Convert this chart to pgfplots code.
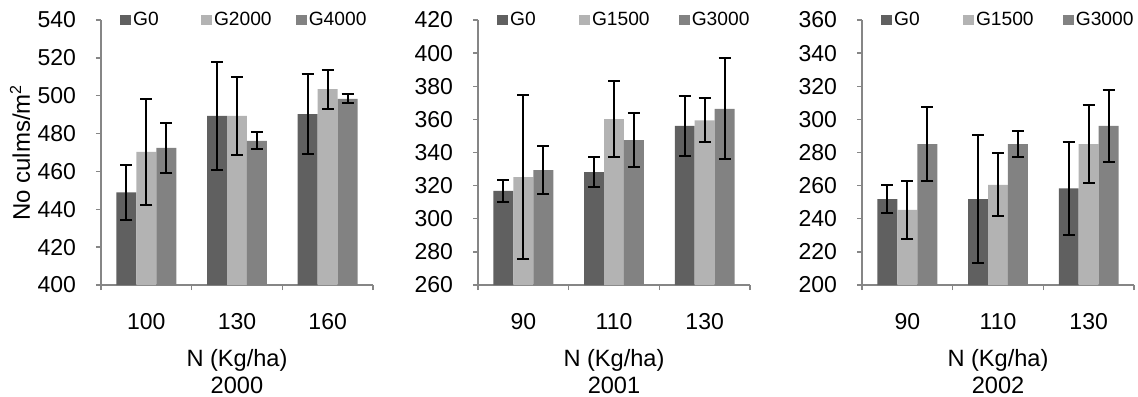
\documentclass[border=0pt]{standalone}
\usepackage{fontspec}
\setmainfont{Liberation Sans}
\usepackage{pgfplots}
\usepackage{pgfplotstable}
\pgfplotsset{compat=1.18}
\definecolor{cA}{HTML}{606060}
\definecolor{cB}{HTML}{B3B3B3}
\definecolor{cC}{HTML}{828282}
\definecolor{axgray}{HTML}{868686}

% panel 2000
\pgfplotstableread{
x y e
1 449.0 14.5
2 489.3 28.4
3 490.3 21.0
}\pA
\pgfplotstableread{
x y e
1 470.3 28.0
2 489.3 20.8
3 503.5 10.3
}\pB
\pgfplotstableread{
x y e
1 472.4 13.3
2 476.1 4.5
3 498.3 2.4
}\pC
% panel 2001
\pgfplotstableread{
x y e
1 316.8 6.8
2 328.2 9.0
3 356.0 18.4
}\qA
\pgfplotstableread{
x y e
1 325.2 49.4
2 360.2 23.0
3 359.4 13.3
}\qB
\pgfplotstableread{
x y e
1 329.4 14.4
2 347.5 16.5
3 366.3 30.5
}\qC
% panel 2002
\pgfplotstableread{
x y e
1 251.9 8.5
2 251.9 38.6
3 258.4 28.0
}\rA
\pgfplotstableread{
x y e
1 245.3 17.6
2 260.4 19.0
3 285.1 23.4
}\rB
\pgfplotstableread{
x y e
1 285.1 22.3
2 285.1 7.8
3 296.0 21.8
}\rC

\pgfplotsset{
  panel/.style={
    scale only axis, width=136pt, height=132.5pt,
    ybar=0pt, bar width=0.22,
    xmin=0.5, xmax=3.5,
    axis x line*=bottom, axis y line*=left,
    axis line style={axgray, line width=0.7pt},
    every tick/.style={axgray, line width=0.7pt},
    tick align=outside, major tick length=2.5pt,
    xtick={0.5,1.5,2.5,3.5}, xticklabels={},
    extra x ticks={1,2,3},
    extra x tick style={major tick length=0pt, tick label style={yshift=-10.5pt}},
    ticklabel style={font=\fontsize{11.5}{13}\selectfont},
    yticklabel style={xshift=-6.5pt},
    /pgf/number format/assume math mode=true,
    xlabel={N (Kg/ha)\\#1},
    xlabel style={at={(axis description cs:0.5,0)}, anchor=north, yshift=-32pt,
      inner sep=0pt, align=center, font=\fontsize{11.8}{13.5}\selectfont},
    legend columns=3,
    legend style={at={(axis description cs:0,1)}, anchor=west, xshift=9.5pt,
      draw=none, fill=none, inner sep=0pt, column sep=0pt,
      font=\fontsize{9.6}{11}\selectfont,
      nodes={inner xsep=1pt, inner ysep=0pt}},
    legend cell align=left,
    legend image code/.code={\fill[##1] (0pt,-2.7pt) rectangle (5.4pt,2.7pt);},
    clip=false,
  },
  sA/.style={fill=cA, draw=none, bar shift=-0.22},
  sB/.style={fill=cB, draw=none, bar shift=0},
  sC/.style={fill=cC, draw=none, bar shift=0.22},
  eb/.style={error bars/.cd, y dir=both, y explicit,
    error bar style={black, line width=1pt},
    error mark options={black, line width=1pt, mark size=3pt, rotate=90}},
}

\begin{document}
\begin{tikzpicture}
\useasboundingbox (0,0) rectangle (569pt,198pt);

\begin{axis}[panel=2000, at={(50.5pt,55.5pt)}, anchor=south west,
  ymin=400, ymax=540, ytick={400,420,...,540},
  extra x tick labels={100,130,160},
  ylabel={No culms/m\textsuperscript{2}},
  ylabel style={at={(axis description cs:-0.298,0.5)}, anchor=center,
    font=\fontsize{12}{14}\selectfont}]
\addplot[sA, eb] table[x=x, y=y, y error=e] {\pA};
\addplot[sB, eb] table[x=x, y=y, y error=e] {\pB};
\addplot[sC, eb] table[x=x, y=y, y error=e] {\pC};
\legend{\makebox[33pt][l]{G0},\makebox[40pt][l]{G2000},G4000}
\end{axis}

\begin{axis}[panel=2001, at={(239pt,55.5pt)}, anchor=south west,
  ymin=260, ymax=420, ytick={260,280,...,420},
  extra x tick labels={90,110,130}]
\addplot[sA, eb] table[x=x, y=y, y error=e] {\qA};
\addplot[sB, eb] table[x=x, y=y, y error=e] {\qB};
\addplot[sC, eb] table[x=x, y=y, y error=e] {\qC};
\legend{\makebox[33.5pt][l]{G0},\makebox[42.5pt][l]{G1500},G3000}
\end{axis}

\begin{axis}[panel=2002, at={(431pt,55.5pt)}, anchor=south west,
  ymin=200, ymax=360, ytick={200,220,...,360},
  extra x tick labels={90,110,130}]
\addplot[sA, eb] table[x=x, y=y, y error=e] {\rA};
\addplot[sB, eb] table[x=x, y=y, y error=e] {\rB};
\addplot[sC, eb] table[x=x, y=y, y error=e] {\rC};
\legend{\makebox[33.5pt][l]{G0},\makebox[42.5pt][l]{G1500},G3000}
\end{axis}
\end{tikzpicture}
\end{document}
